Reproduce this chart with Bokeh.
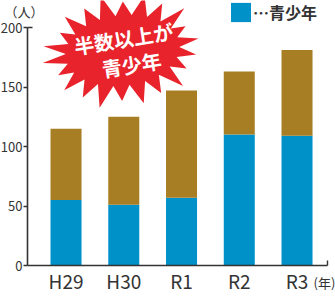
import math
from bokeh.plotting import figure
from bokeh.models import (Range1d, LinearAxis, FixedTicker, Label, Legend, LegendItem)
from bokeh.embed import file_html
from bokeh.resources import INLINE

# ---- data ----
categories = ["H29", "H30", "R1", "R2", "R3"]
youth = [55, 51, 57, 110, 109]          # 青少年
others = [60, 74, 90, 53, 72]           # その他
y_ticks = [0, 50, 100, 150, 200]
unit_label = "（人）"
year_label = "(年)"
legend_label = "…青少年"
burst_lines = ["半数以上が", "青少年"]

BLUE = "#0091C9"
GOLD = "#A87E24"
RED = "#E9232B"
INK = "#333333"
FONT = "Noto Sans CJK JP"

W, H = 335, 296
PX_PER_X = 57.75      # pixels per category step
PX_PER_Y = 1.19       # pixels per person
AX_PX, AY_PX = 27, 265  # where the axes cross, in canvas pixels
X0 = -0.667 - AX_PX / PX_PER_X
X1 = X0 + W / PX_PER_X
Y1 = AY_PX / PX_PER_Y
Y0 = Y1 - H / PX_PER_Y

p = figure(width=W, height=H, output_backend="svg", toolbar_location=None,
           x_range=Range1d(X0, X1), y_range=Range1d(Y0, Y1),
           x_axis_location=None, y_axis_location=None,
           min_border=0, outline_line_color=None)
p.title.visible = False
p.xgrid.visible = False
p.ygrid.visible = False


def dx(px):
    return X0 + px / PX_PER_X


def dy(py):
    return Y1 - py / PX_PER_Y


xs = list(range(len(categories)))
data = dict(x=xs, youth=youth, others=others)
rs = p.vbar_stack(["youth", "others"], x="x", width=0.537, color=[BLUE, GOLD],
                  line_color=None, source=data)

# ---- axes ----
yaxis = LinearAxis(ticker=FixedTicker(ticks=y_ticks, minor_ticks=[200]),
                   bounds=(0, 200), fixed_location=dx(AX_PX))
yaxis.axis_line_color = INK
yaxis.axis_line_width = 1.6
yaxis.major_tick_line_color = INK
yaxis.major_tick_line_width = 1.4
yaxis.major_tick_out = 4
yaxis.major_tick_in = 0
yaxis.minor_tick_line_color = INK
yaxis.minor_tick_line_width = 1.4
yaxis.minor_tick_in = 5
yaxis.minor_tick_out = 0
yaxis.major_label_standoff = 1
yaxis.major_label_text_font = FONT
yaxis.major_label_text_font_size = "13px"
yaxis.major_label_text_color = INK
p.add_layout(yaxis, "left")

end_x = dx(327)
xaxis = LinearAxis(ticker=FixedTicker(ticks=xs, minor_ticks=[end_x]),
                   bounds=(dx(AX_PX), end_x), fixed_location=0)
xaxis.major_label_overrides = {i: c for i, c in zip(xs, categories)}
xaxis.axis_line_color = INK
xaxis.axis_line_width = 1.6
xaxis.major_tick_in = 0
xaxis.major_tick_out = 0
xaxis.minor_tick_line_color = INK
xaxis.minor_tick_line_width = 1.4
xaxis.minor_tick_in = 5
xaxis.minor_tick_out = 0
xaxis.major_label_standoff = 1
xaxis.major_label_text_font = FONT
xaxis.major_label_text_font_size = "19px"
xaxis.major_label_text_color = INK
p.add_layout(xaxis, "below")

# ---- starburst callout ----
cx, cy = 122, 50
rxo, ryo, rxi, ryi = 77, 56, 57, 35
tilt = 0.12
mult = [1.0, 0.9, 1.06, 0.95, 1.0, 0.87, 1.03, 0.93, 1.0, 0.9, 1.04,
        1.05, 0.92, 1.0, 0.95, 1.04, 0.9, 1.0, 0.94, 1.05, 0.92, 0.97]
n = len(mult)
bx, by = [], []
for k in range(2 * n):
    t = math.pi * k / n + 0.05
    if k % 2 == 0:
        m = mult[k // 2]
        rx, ry = rxo * m, ryo * m
    else:
        rx, ry = rxi, ryi
    ux, uy = rx * math.cos(t), ry * math.sin(t)
    rxp = ux * math.cos(tilt) - uy * math.sin(tilt)
    ryp = ux * math.sin(tilt) + uy * math.cos(tilt)
    bx.append(dx(cx + rxp))
    by.append(dy(cy - ryp))
p.patch(bx, by, fill_color=RED, line_color=None)

for txt, (px, py) in zip(burst_lines, [(123, 38), (131, 64)]):
    p.add_layout(Label(x=dx(px), y=dy(py), text=txt, angle=0.157,
                       text_align="center", text_baseline="middle",
                       text_font=FONT, text_font_style="bold",
                       text_font_size="20px", text_color="white"))

# ---- unit labels ----
p.add_layout(Label(x=dx(23.5), y=dy(11), text=unit_label, text_align="center",
                   text_baseline="middle", text_font=FONT, text_font_size="13px",
                   text_color=INK))
p.add_layout(Label(x=dx(313), y=dy(282), text=year_label, text_align="left",
                   text_baseline="middle", text_font=FONT, text_font_size="13px",
                   text_color=INK))

# ---- legend ----
legend = Legend(items=[LegendItem(label=legend_label, renderers=[rs[0]])],
                location=(228, 272), orientation="vertical")
legend.border_line_color = None
legend.background_fill_alpha = 0
legend.padding = 0
legend.margin = 0
legend.spacing = 0
legend.glyph_width = 25
legend.glyph_height = 24
legend.label_height = 20
legend.label_standoff = 0
legend.label_text_font = FONT
legend.label_text_font_style = "bold"
legend.label_text_font_size = "16px"
legend.label_text_color = INK
p.add_layout(legend, "center")

html = file_html(p, INLINE)
html = html.replace("<head>", "<head><style>html,body{margin:0;padding:0;overflow:hidden;}</style>", 1)
open("out.html", "w").write(html)
